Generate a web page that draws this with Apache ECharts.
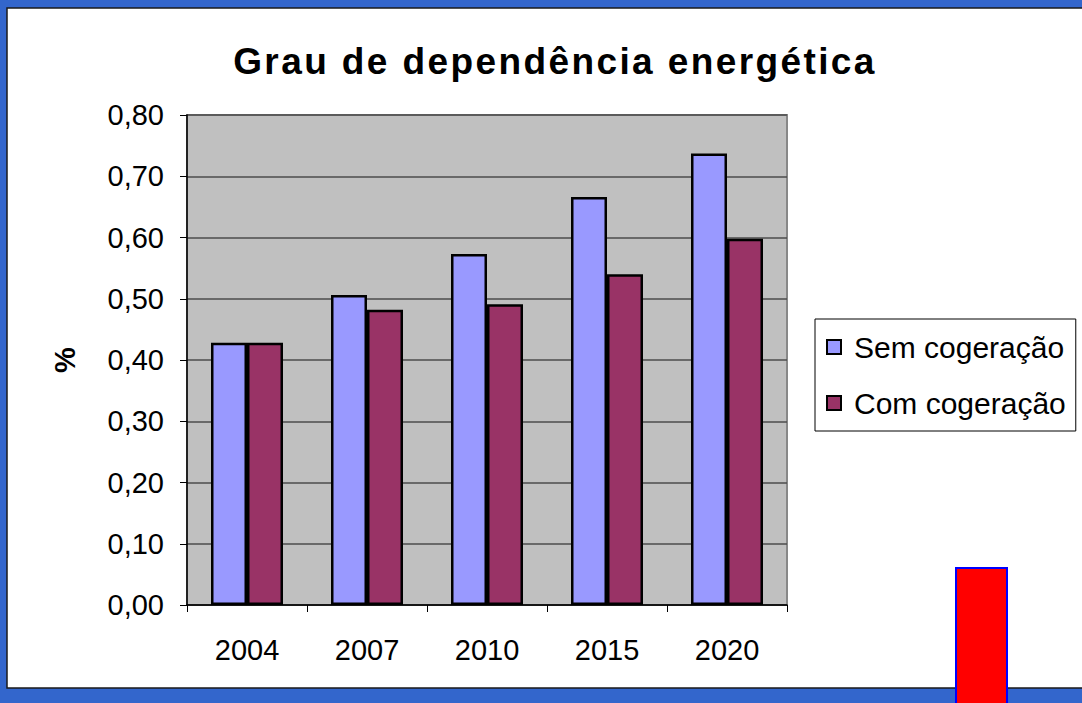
<!DOCTYPE html>
<html>
<head>
<meta charset="utf-8">
<script src="https://cdn.jsdelivr.net/npm/echarts@6/dist/echarts.min.js"></script>
<style>
	html, body { margin: 0; padding: 0; background: #3366CC; }
	#main { width: 1082px; height: 703px; }
	/* título com espaçamento entre letras */
	#main text[style*="bold"][style*="37"] { letter-spacing: 2.4px; }
</style>
</head>
<body>
<div id="main"></div>
<script>
	// dados
	var anos = [ '2004', '2007', '2010', '2015', '2020' ];
	var semCogeracao = [ 0.428, 0.506, 0.573, 0.666, 0.737 ];
	var comCogeracao = [ 0.428, 0.482, 0.491, 0.540, 0.598 ];
	var nomesSeries = [ 'Sem cogeração', 'Com cogeração' ];
	var fonte = 'Liberation Sans, Arial, sans-serif';

	var mychart = echarts.init(document.getElementById('main'), null, {
		renderer : 'svg'
	});

	// formato com vírgula decimal
	function virgula(v) {
		return v.toFixed(2).replace('.', ',');
	}

	var option = {
		backgroundColor : '#3366CC',
		animation : false,
		textStyle : {
			fontFamily : fonte
		},
		title : {
			text : 'Grau de dependência energética',
			left : 550,
			textAlign : 'center',
			top : 38,
			textStyle : {
				fontFamily : fonte,
				fontWeight : 'bold',
				fontSize : 37,
				color : '#000'
			}
		},
		graphic : [ {
			type : 'rect',
			z : -10,
			shape : { x : 7, y : 8, width : 1090, height : 680 },
			style : { fill : '#FFFFFF', stroke : '#1a1a1a', lineWidth : 1.5 }
		}, {
			type : 'rect',
			z : 100,
			shape : { x : 956, y : 568, width : 51, height : 150 },
			style : { fill : '#FF0000', stroke : '#0000FF', lineWidth : 2 }
		} ],
		legend : {
			orient : 'vertical',
			left : 815,
			top : 319,
			padding : [ 13, 10, 13, 11 ],
			itemGap : 26,
			itemWidth : 14,
			itemHeight : 14,
			icon : 'rect',
			borderColor : '#000',
			borderWidth : 1,
			selectedMode : false,
			textStyle : {
				fontFamily : fonte,
				fontSize : 30,
				color : '#000',
				padding : [ 0, 0, 0, 8 ]
			},
			data : nomesSeries
		},
		grid : {
			show : true,
			left : 187,
			top : 115,
			width : 600,
			height : 490,
			backgroundColor : '#C0C0C0',
			borderColor : '#888888',
			borderWidth : 2
		},
		xAxis : {
			type : 'category',
			data : anos,
			axisLine : {
				lineStyle : { color : '#000', width : 1.5 }
			},
			axisTick : {
				show : true,
				length : 7,
				lineStyle : { color : '#000' }
			},
			axisLabel : {
				fontFamily : fonte,
				fontSize : 29,
				color : '#000',
				margin : 30
			}
		},
		yAxis : {
			type : 'value',
			min : 0,
			max : 0.8,
			interval : 0.1,
			name : '%',
			nameLocation : 'middle',
			nameGap : 108,
			nameTextStyle : {
				fontFamily : fonte,
				fontWeight : 'bold',
				fontSize : 29,
				color : '#000'
			},
			axisLine : {
				show : true,
				lineStyle : { color : '#000', width : 1.5 }
			},
			axisTick : {
				show : true,
				length : 7,
				lineStyle : { color : '#000' }
			},
			axisLabel : {
				fontFamily : fonte,
				fontSize : 29,
				color : '#000',
				margin : 23,
				formatter : virgula
			},
			splitLine : {
				lineStyle : { color : '#4d4d4d', width : 1.5 }
			}
		},
		series : [ {
			name : nomesSeries[0],
			type : 'bar',
			barGap : '0%',
			barCategoryGap : '40%',
			itemStyle : {
				color : '#9999FF',
				borderColor : '#000',
				borderWidth : 2.5
			},
			data : semCogeracao
		}, {
			name : nomesSeries[1],
			type : 'bar',
			barGap : '0%',
			barCategoryGap : '40%',
			itemStyle : {
				color : '#993366',
				borderColor : '#000',
				borderWidth : 2.5
			},
			data : comCogeracao
		} ]
	};
	mychart.setOption(option);
</script>
</body>
</html>
